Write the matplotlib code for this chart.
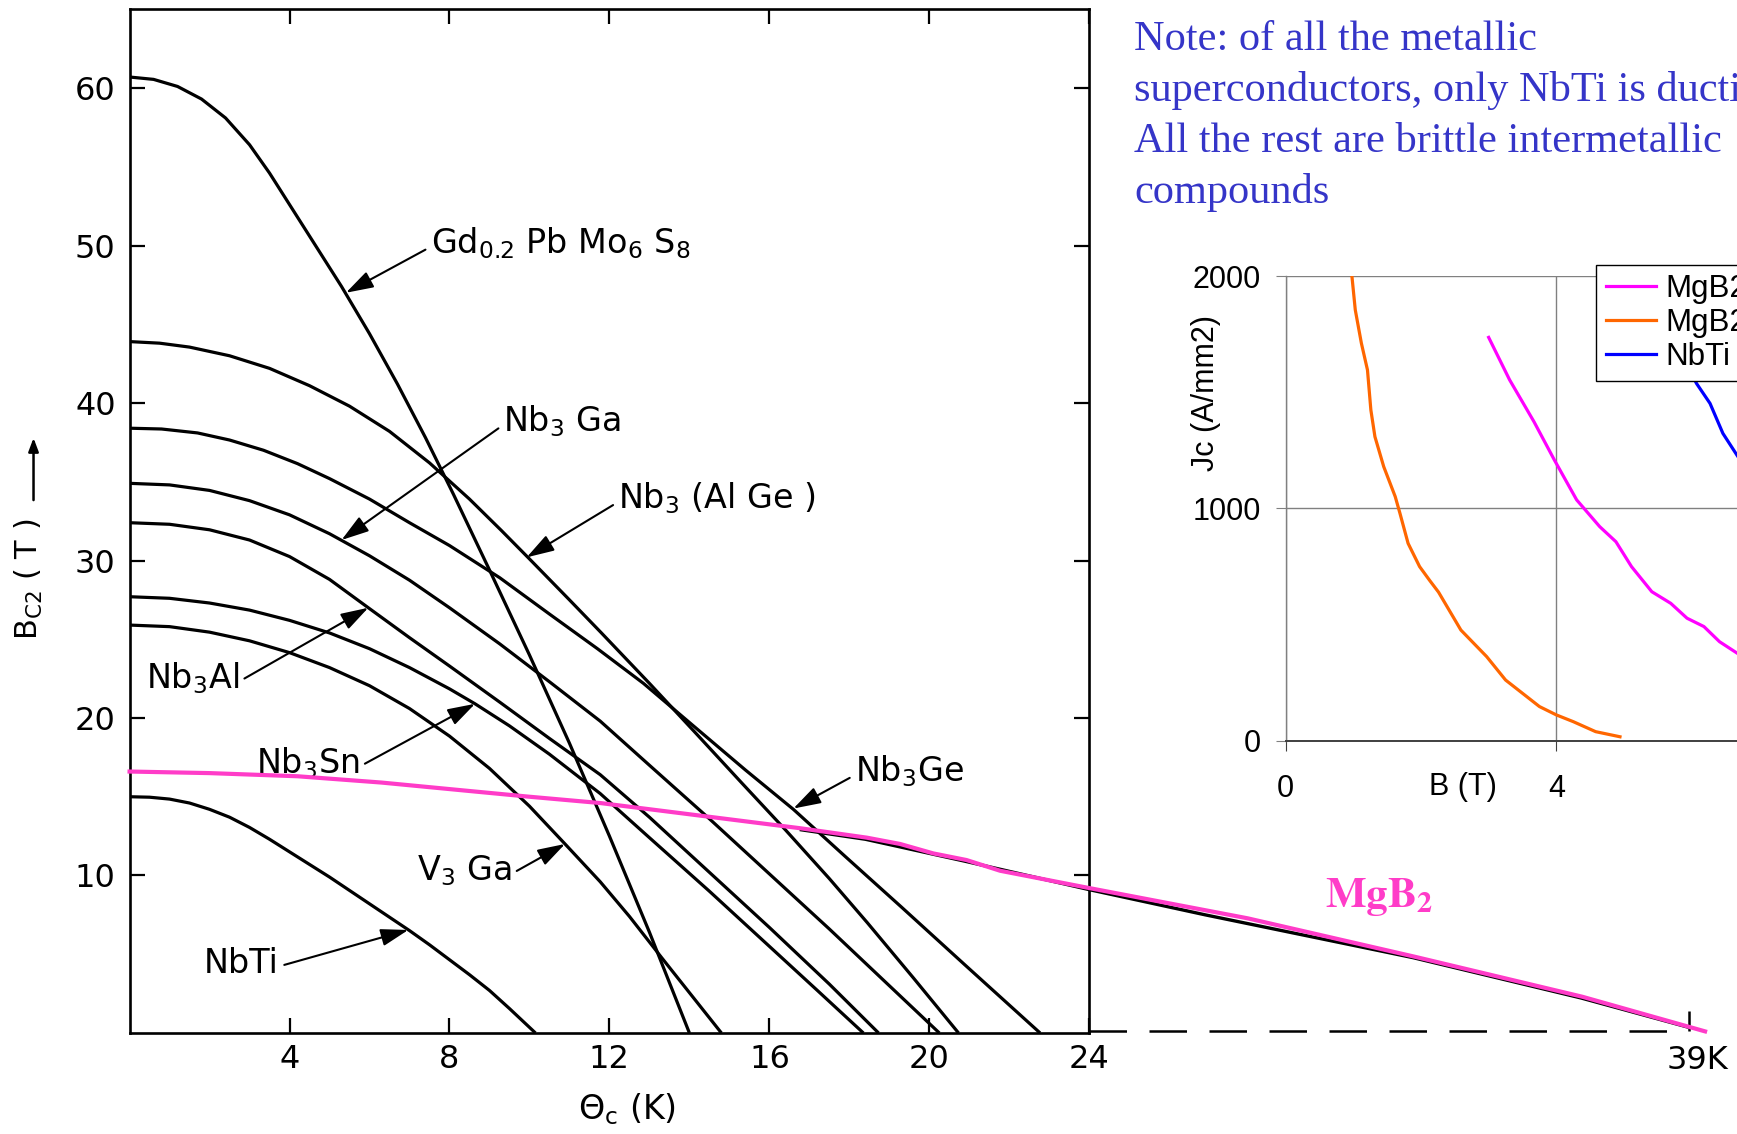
import matplotlib
matplotlib.use("Agg")
import matplotlib.pyplot as plt
from matplotlib.lines import Line2D
from matplotlib.transforms import blended_transform_factory

# ---- main chart: upper critical field Bc2 (T) vs temperature (K) ----
gd_T = [0, 0.6, 1.2, 1.8, 2.4, 3.0, 3.5, 4.0, 4.6, 5.3, 6.0, 6.7, 7.4, 8.1, 9.0, 10.0, 11.0, 12.0, 13.0, 14.0]
gd_B = [60.7, 60.55, 60.1, 59.3, 58.1, 56.4, 54.6, 52.6, 50.2, 47.4, 44.4, 41.2, 37.8, 34.2, 29.4, 24.0,
        18.4, 12.5, 6.4, 0]

algeT = [0, 0.75, 1.5, 2.5, 3.5, 4.5, 5.5, 6.5, 7.5, 8.5, 9.3, 10, 11, 11.8, 13, 14.1, 15.3, 16.4,
         17.5, 18.45, 19.6, 20.73]
algeB = [43.9, 43.8, 43.55, 43.0, 42.2, 41.1, 39.8, 38.2, 36.2, 33.9, 31.9, 30.1, 27.5, 25.4, 22.2,
         19.2, 15.9, 12.9, 9.8, 7.0, 3.5, 0]

geT = [0, 0.8, 1.7, 2.5, 3.35, 4.2, 5.0, 6.0, 7.0, 8.0, 9.26, 10.5, 11.7, 12.85, 14.1, 15.4, 16.6,
       17.9, 19.3, 20.9, 22.77]
geB = [38.4, 38.35, 38.1, 37.65, 37.0, 36.15, 35.2, 33.9, 32.4, 30.95, 28.9, 26.6, 24.4, 22.2, 19.5,
       16.7, 14.2, 11.2, 8.0, 4.3, 0]

gaT = [0, 1, 2, 3, 4, 5, 6, 7, 8, 9.26, 10.5, 11.77, 13, 14.5, 16, 17.5, 19, 20.25]
gaB = [34.9, 34.8, 34.45, 33.8, 32.9, 31.7, 30.3, 28.75, 27.0, 24.7, 22.3, 19.8, 17.0, 13.6, 10.1,
       6.6, 3.0, 0]

alT = [0, 1, 2, 3, 4, 5, 5.97, 7, 8, 9.26, 10.5, 11.77, 13, 14.5, 16, 17.5, 18.73]
alB = [32.4, 32.3, 31.95, 31.3, 30.25, 28.8, 27.0, 25.1, 23.3, 21.0, 18.7, 16.4, 13.7, 10.2, 6.7, 3.1, 0]

snT = [0, 1, 2, 3, 4, 5, 6, 7, 8, 8.64, 9.5, 10.5, 11.77, 13, 14.5, 16, 17.2, 18.35]
snB = [27.7, 27.6, 27.3, 26.85, 26.2, 25.4, 24.4, 23.2, 21.85, 20.9, 19.5, 17.7, 15.2, 12.4, 9.0, 5.5,
       2.7, 0]

v3T = [0, 1, 2, 3, 4, 5, 6, 7, 8, 9, 10, 10.89, 11.77, 12.5, 13.3, 14.05, 14.8]
v3B = [25.9, 25.8, 25.45, 24.9, 24.15, 23.2, 22.05, 20.6, 18.85, 16.8, 14.4, 12.0, 9.6, 7.4, 4.8, 2.4, 0]

nbtiT = [0, 0.5, 1, 1.5, 2, 2.5, 3, 3.5, 4, 4.5, 5, 5.5, 6, 6.5, 7, 7.5, 8, 8.5, 9, 9.5, 10.15]
nbtiB = [15.0, 14.97, 14.85, 14.6, 14.2, 13.7, 13.05, 12.3, 11.5, 10.7, 9.9, 9.05, 8.2, 7.35, 6.5,
         5.6, 4.65, 3.7, 2.7, 1.55, 0]

mgT = [0, 2.0, 4.2, 6.3, 8.35, 10.0, 11.77, 14.27, 16.77, 18.44, 19.27, 20.1, 20.93, 21.77, 24.0,
       27.96, 32.14, 36.33, 39.4]
mgB = [16.6, 16.5, 16.3, 15.9, 15.4, 15.0, 14.6, 13.8, 13.0, 12.4, 12.0, 11.4, 10.98, 10.3, 9.2,
       7.28, 4.84, 2.3, 0.1]

# black original curve peeking out under the pink one
mg_blackT = [16.8, 18.4, 20.9, 24.0, 26.9, 32.1, 36.3, 39.0]
mg_blackB = [12.9, 12.3, 10.9, 9.1, 7.5, 4.78, 2.22, 0.35]

curves = [(gd_T, gd_B), (algeT, algeB), (geT, geB), (gaT, gaB),
          (alT, alB), (snT, snB), (v3T, v3B), (nbtiT, nbtiB)]

labels = [r"Gd$_{0.2}$ Pb Mo$_6$ S$_8$", r"Nb$_3$ Ga", r"Nb$_3$ (Al Ge )", r"Nb$_3$Al",
          r"Nb$_3$Sn", r"Nb$_3$Ge", r"V$_3$ Ga", "NbTi"]
label_pos = [(7.53, 49.5), (9.35, 38.2), (12.22, 33.3), (0.41, 21.9),
             (3.16, 16.5), (18.14, 15.96), (7.18, 9.71), (1.86, 3.83)]
label_tip = [(5.41, 47.0), (5.30, 31.3), (9.93, 30.2), (5.97, 27.0),
             (8.64, 20.9), (16.6, 14.25), (10.89, 12.0), (6.97, 6.54)]
label_side = [0, 0, 0, 1, 1, 0, 1, 1]

# ---- inset: Jc (A/mm2) vs B (T) ----
orangeB = [0.98, 1.03, 1.12, 1.21, 1.26, 1.32, 1.45, 1.62, 1.69, 1.81, 1.98, 2.13, 2.26, 2.59, 2.97,
           3.25, 3.75, 4.0, 4.25, 4.58, 4.94]
orangeJ = [2000, 1854, 1711, 1596, 1424, 1309, 1180, 1051, 979, 850, 750, 690, 640, 477, 363,
           262, 148, 112, 83, 40, 18]
magentaB = [3.0, 3.31, 3.67, 3.97, 4.30, 4.64, 4.88, 5.11, 5.41, 5.69, 5.93, 6.18, 6.41, 6.7]
magentaJ = [1736, 1553, 1373, 1209, 1037, 922, 857, 750, 642, 592, 528, 492, 427, 372]
blueB = [5.75, 6.07, 6.27, 6.46, 6.7]
blueJ = [1720, 1538, 1452, 1323, 1215]
legend_names = ["MgB2", "MgB2", "NbTi"]

PINK = "#FF3CC8"

fig = plt.figure(figsize=(17.37, 11.34), dpi=100)
ax = fig.add_axes([0.0746, 0.0891, 0.5525, 0.9027])
ax.set_xlim(0, 24)
ax.set_ylim(0, 65)

for T, B in curves:
    ax.plot(T, B, color="black", lw=2.3, solid_capstyle="butt", solid_joinstyle="round", zorder=2)

ax.plot(mg_blackT, mg_blackB, color="black", lw=2.4, clip_on=False, zorder=3)
ax.plot(mgT, mgB, color=PINK, lw=3.0, clip_on=False, solid_joinstyle="round", zorder=4)

# dashed extension of the T axis up to 39 K
ax.hlines(0.15, 24, 39, colors="black", lw=1.8, linestyles=(0, (15, 9)), clip_on=False)
ax.vlines(39, 0.15, 1.4, colors="black", lw=1.8, clip_on=False)
ax.annotate("39K", xy=(39.2, 0), xytext=(0, -9), textcoords="offset points",
            ha="center", va="top", fontsize=23, annotation_clip=False)

for s in ax.spines.values():
    s.set_linewidth(1.9)
ax.set_xticks([4, 8, 12, 16, 20, 24])
ax.set_yticks([10, 20, 30, 40, 50, 60])
ax.tick_params(direction="in", length=11, width=1.6, top=True, right=True, labelsize=23)
ax.tick_params(axis="x", pad=8)
ax.tick_params(axis="y", pad=10)

for txt, (tx, ty), (px, py), side in zip(labels, label_pos, label_tip, label_side):
    ax.annotate(txt, xy=(px, py), xytext=(tx, ty), ha="left", va="baseline", fontsize=24,
                arrowprops=dict(arrowstyle="-|>,head_length=0.7,head_width=0.22",
                                color="black", lw=1.5, shrinkB=0,
                                relpos=(side, 0.4)))

fig.text(0.0167, 0.4894, r"B$_{\mathrm{C2}}$ ( T )", rotation=90, ha="center", va="center",
         fontsize=22)
ax.annotate("", xy=(0.0193, 0.6138), xytext=(0.0193, 0.559), xycoords="figure fraction",
            arrowprops=dict(arrowstyle="-|>,head_length=0.8,head_width=0.3", color="black",
                            lw=1.8, shrinkA=0, shrinkB=0), annotation_clip=False)
fig.text(0.361, 0.022, r"$\Theta_\mathrm{c}$ (K)", ha="center", va="center", fontsize=24)

fig.text(0.763, 0.2, r"$\mathbf{MgB_2}$", color=PINK, fontsize=31, math_fontfamily="stix",
         ha="left", va="baseline")

# ---- blue note ----
note_lines = ["Note: of all the metallic",
              "superconductors, only NbTi is ductile.",
              "All the rest are brittle intermetallic",
              "compounds"]
for i, line in enumerate(note_lines):
    fig.text(0.6528, 0.9559 - i * 0.0451, line, color="#3535C8", fontsize=30.5,
             family="Liberation Serif", ha="left", va="baseline")

# ---- inset ----
ax2 = fig.add_axes([0.7401, 0.3466, 0.3118, 0.41])
ax2.set_xlim(0, 8)
ax2.set_ylim(0, 2000)
ax2.plot(orangeB, orangeJ, color="#FF6600", lw=2.3)
ax2.plot(magentaB, magentaJ, color="#FF00FF", lw=2.3)
ax2.plot(blueB, blueJ, color="#0000FF", lw=2.3)
ax2.set_xticks([0, 4, 8])
ax2.set_yticks([0, 1000, 2000])
ax2.grid(True, color="#808080", lw=1.0)
for side in ["top", "right"]:
    ax2.spines[side].set_visible(False)
ax2.spines["left"].set_color("#808080")
ax2.spines["left"].set_linewidth(1.0)
ax2.spines["bottom"].set_color("#404040")
ax2.spines["bottom"].set_linewidth(1.4)
ax2.tick_params(axis="y", direction="out", length=7, color="#808080", pad=11)
ax2.tick_params(axis="x", direction="out", length=7, color="#404040", pad=17)
ax2.tick_params(labelsize=22)
for t in ax2.get_xticklabels() + ax2.get_yticklabels():
    t.set_family("Liberation Sans")
trans = blended_transform_factory(ax2.transData, ax2.transAxes)
ax2.text(2.62, -0.099, "B (T)", transform=trans, ha="center", va="center", fontsize=22,
         family="Liberation Sans")
ax2.text(-0.147, 0.749, "Jc (A/mm2)", transform=ax2.transAxes, rotation=90, ha="center",
         va="center", fontsize=22, family="Liberation Sans")

handles = [Line2D([], [], color="#FF00FF", lw=2.3), Line2D([], [], color="#FF6600", lw=2.3),
           Line2D([], [], color="#0000FF", lw=2.3)]
leg = ax2.legend(handles, legend_names, loc="upper left",
                 bbox_to_anchor=(0.919, 0.7663), bbox_transform=fig.transFigure,
                 borderaxespad=0, fancybox=False, framealpha=1, edgecolor="black",
                 prop={"family": "Liberation Sans", "size": 22.5}, handlelength=1.6,
                 handletextpad=0.3, labelspacing=0.12, borderpad=0.3)
leg.get_frame().set_linewidth(1.0)

fig.savefig("out.png", dpi=100)
